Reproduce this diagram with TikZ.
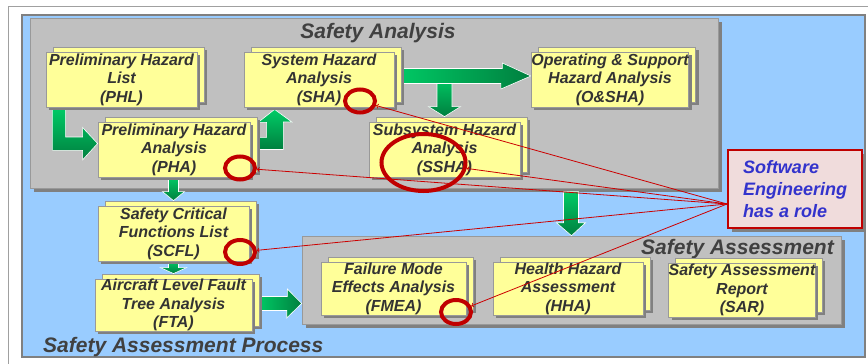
\documentclass[tikz,border=0pt]{standalone}
\usepackage{fontspec}
\setmainfont{Liberation Sans}
\usepackage{xcolor}
\usepackage{tikz}
\usetikzlibrary{shapes.geometric}
\definecolor{CFFFF99}{HTML}{FFFF99}
\definecolor{C99CCFF}{HTML}{99CCFF}
\definecolor{CC0C0C0}{HTML}{C0C0C0}
\definecolor{C808080}{HTML}{808080}
\definecolor{C999999}{HTML}{999999}
\definecolor{CA0A0A0}{HTML}{A0A0A0}
\definecolor{C333333}{HTML}{333333}
\definecolor{C404040}{HTML}{404040}
\definecolor{C00CC66}{HTML}{00CC66}
\definecolor{C007F3F}{HTML}{007F3F}
\definecolor{CC00000}{HTML}{C00000}
\definecolor{CCC0000}{HTML}{CC0000}
\definecolor{CF0DCDC}{HTML}{F0DCDC}
\definecolor{C3333CC}{HTML}{3333CC}
\pgfdeclarelayer{panels}
\pgfdeclarelayer{flows}
\pgfsetlayers{panels,flows,main}
\begin{document}
\begin{tikzpicture}[inner sep=0pt,
  panel/.style={fill=CC0C0C0, draw=C999999, line width=0.6pt, preaction={fill=C808080, transform canvas={xshift=4pt,yshift=-4pt}}},
  card/.style={minimum height=55pt, fill=CFFFF99, draw=C999999, line width=0.8pt, align=center, text=C333333, font=\fontsize{16}{18.5}\selectfont\bfseries\itshape,
    preaction={fill=C808080, transform canvas={xshift=10pt,yshift=2pt}},
    preaction={fill=CFFFF99, draw=C999999, transform canvas={xshift=7pt,yshift=5pt}},
    preaction={fill=C808080, transform canvas={xshift=3pt,yshift=-3pt}}},
  title/.style={text=C404040, font=\fontsize{21}{24}\selectfont\bfseries\itshape},
  hflow/.style={left color=C00CC66, right color=C007F3F, draw=white, line width=0.6pt},
  vflow/.style={top color=C00CC66, bottom color=C007F3F, draw=white, line width=0.6pt},
  ring/.style={shape=ellipse, draw=CC00000, line width=4pt},
  pointer/.style={->, draw=CCC0000, line width=0.8pt}]
\useasboundingbox (0pt,0pt) rectangle (868pt,-364pt);

\begin{pgfonlayer}{panels}
\fill[white] (0pt,0pt) rectangle (868pt,-364pt);
\draw[CA0A0A0, line width=1pt] (8pt,-6pt) rectangle (880pt,-380pt);
\node (process) [minimum width=843pt, minimum height=342pt, at={(443.5pt,-186pt)}, fill=C99CCFF, draw=C808080, line width=1.2pt] {};
\node (analysis) [panel, minimum width=688pt, minimum height=170pt, at={(374pt,-103pt)}] {};
\node (assess) [panel, minimum width=539pt, minimum height=88pt, at={(571.5pt,-280pt)}] {};
\end{pgfonlayer}

\node (analysistitle) [title, at={(378pt,-33pt)}] {Safety Analysis};
\node (assesstitle) [title, anchor=east, at={(834pt,-249pt)}] {Safety Assessment};
\node (processtitle) [title, anchor=west, at={(43pt,-347pt)}] {Safety Assessment Process};

\node (phl) [card, minimum width=151pt, at={(121.5pt,-79.5pt)}] {Preliminary Hazard\\List\\(PHL)};
\node (pha) [card, minimum width=152pt, at={(174pt,-149.5pt)}] {Preliminary Hazard\\Analysis\\(PHA)};
\node (sha) [card, minimum width=150pt, at={(319pt,-79.5pt)}] {System Hazard\\Analysis\\(SHA)};
\node (osha) [card, minimum width=156pt, at={(610pt,-79.5pt)}] {Operating \& Support\\Hazard Analysis\\(O\&SHA)};
\node (ssha) [card, minimum width=151pt, at={(444.5pt,-149.5pt)}] {Subsystem Hazard\\Analysis\\(SSHA)};
\node (scfl) [card, minimum width=151pt, at={(173.5pt,-233.5pt)}] {Safety Critical\\Functions List\\(SCFL)};
\node (fta) [card, minimum width=157pt, minimum height=52pt, at={(173.5pt,-305pt)}] {Aircraft Level Fault\\Tree Analysis\\(FTA)};
\node (fmea) [card, minimum width=145pt, minimum height=53pt, at={(393.5pt,-288.5pt)}] {Failure Mode\\Effects Analysis\\(FMEA)};
\node (hha) [card, minimum width=150pt, minimum height=53pt, at={(568pt,-288.5pt)}] {Health Hazard\\Assessment\\(HHA)};
\node (sar) [card, minimum width=146pt, minimum height=54pt, at={(742pt,-290pt)}] {Safety Assessment\\Report\\(SAR)};

\node (swe) [minimum width=134pt, minimum height=78pt, at={(795pt,-189pt)}, fill=CF0DCDC, draw=CC00000, line width=2pt, align=left, text=C3333CC, font=\fontsize{18}{22}\selectfont\bfseries\itshape, preaction={fill=C808080, transform canvas={xshift=4pt,yshift=-4pt}}] {Software\\Engineering\\has a role};

\begin{pgfonlayer}{flows}
\shadedraw[vflow] ([xshift=7pt]phl.south west) -- ++(0pt,-43pt) -- ++(30pt,0pt) -- ++(0pt,-9.5pt) -- ([yshift=6pt]pha.west) -- ++(-15pt,16pt) -- ++(0pt,-9.5pt) -- ++(-17pt,0pt) -- ++(0pt,30pt) -- cycle;
\shadedraw[vflow] (pha.east) -- ++(33pt,0pt) -- ++(0pt,27.5pt) -- ++(8.5pt,0pt) -- ([xshift=31pt,yshift=-2pt]sha.south west) -- ++(-16.5pt,-13pt) -- ++(8.5pt,0pt) -- ++(0pt,-15pt) -- ++(-17pt,0pt) -- cycle;
\shadedraw[vflow] ([yshift=5pt]ssha.north) -- ++(16pt,10pt) -- ++(-8.5pt,0pt) -- ++(0pt,31pt) -- ++(-15pt,0pt) -- ++(0pt,-31pt) -- ++(-8.5pt,0pt) -- cycle;
\shadedraw[hflow] ([yshift=11pt]sha.east) -- ++(108pt,0pt) -- ++(0pt,5.5pt) -- ([yshift=3.5pt]osha.west) -- ++(-30pt,-13pt) -- ++(0pt,5.5pt) -- ++(-108pt,0pt) -- cycle;
\shadedraw[vflow] ([yshift=5pt]scfl.north) -- ++(11pt,9pt) -- ++(-6pt,0pt) -- ++(0pt,15pt) -- ++(-10pt,0pt) -- ++(0pt,-15pt) -- ++(-6pt,0pt) -- cycle;
\shadedraw[vflow] ([yshift=5pt]fta.north) -- ++(13pt,6pt) -- ++(-8pt,0pt) -- ++(0pt,7pt) -- ++(-10pt,0pt) -- ++(0pt,-7pt) -- ++(-8pt,0pt) -- cycle;
\shadedraw[hflow] ([xshift=5pt,yshift=8.5pt]fta.east) -- ++(30pt,0pt) -- ++(0pt,7.5pt) -- ([yshift=-23.5pt]assess.west) -- ++(-15pt,-14.5pt) -- ++(0pt,7.5pt) -- ++(-30pt,0pt) -- cycle;
\shadedraw[vflow] (assess.north) -- ++(14pt,13pt) -- ++(-7pt,0pt) -- ++(0pt,31pt) -- ++(-15pt,0pt) -- ++(0pt,-31pt) -- ++(-7pt,0pt) -- cycle;
\end{pgfonlayer}

\node (rsha) [ring, minimum width=30pt, minimum height=23pt, at={(360pt,-101pt)}] {};
\node (rssha) [ring, minimum width=84pt, minimum height=57pt, at={(423.5pt,-162.5pt)}] {};
\node (rpha) [ring, minimum width=30pt, minimum height=23pt, at={(240pt,-168pt)}] {};
\node (rscfl) [ring, minimum width=30pt, minimum height=24pt, at={(240pt,-252pt)}] {};
\node (rfmea) [ring, minimum width=30pt, minimum height=24pt, at={(456pt,-312pt)}] {};

\coordinate (hub) at ([yshift=-15pt]swe.west);
\draw[pointer] (hub) -- (rsha);
\draw[pointer] (hub) -- (rssha);
\draw[pointer] (hub) -- (rpha);
\draw[pointer] (hub) -- (rscfl);
\draw[pointer] (hub) -- (rfmea);
\end{tikzpicture}
\end{document}
